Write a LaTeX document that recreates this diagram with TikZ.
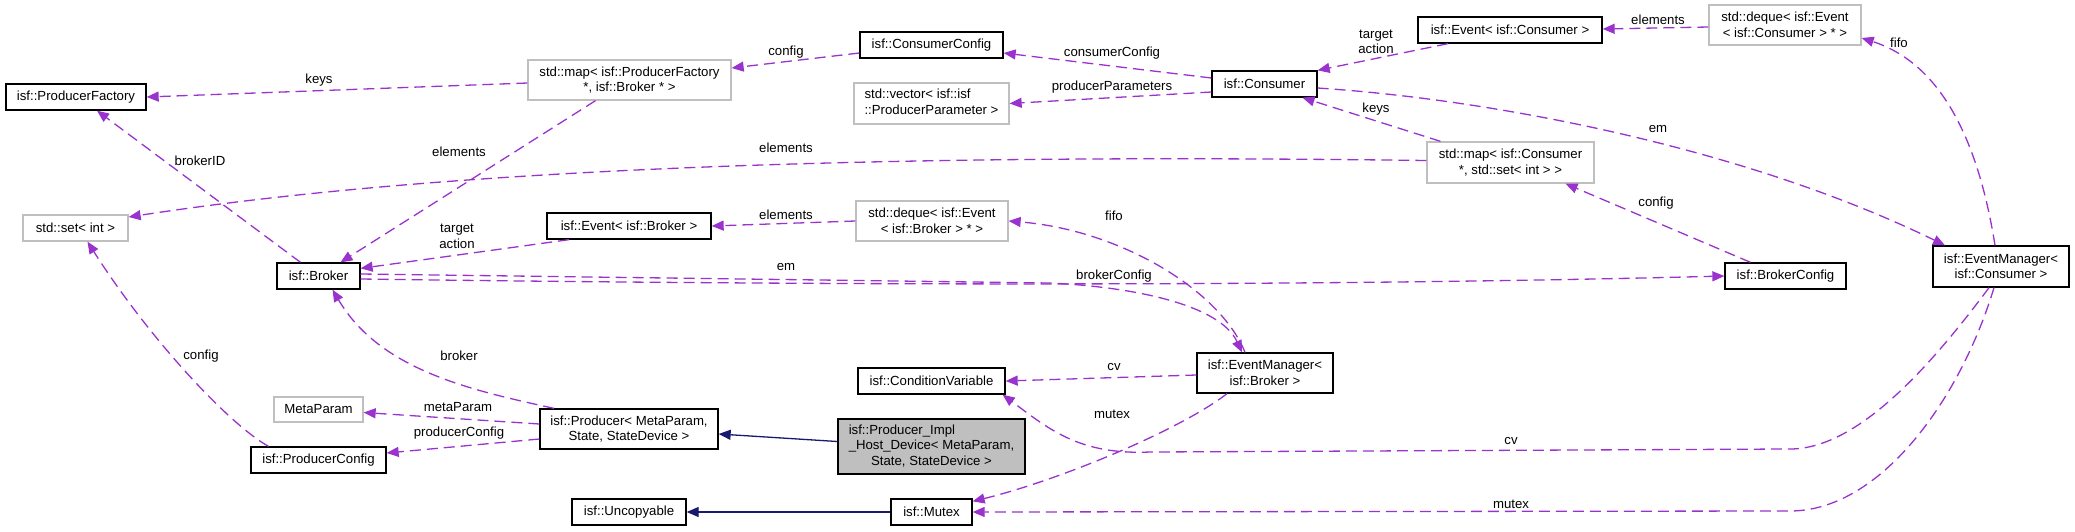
\documentclass[tikz,border=0pt]{standalone}
\usepackage{fontspec}
\setmainfont{Liberation Sans}
\usetikzlibrary{arrows.meta}
\definecolor{edgepurple}{HTML}{9A32CD}
\definecolor{midblue}{HTML}{191970}
\definecolor{greyseventyfive}{HTML}{BFBFBF}
\begin{document}
\begin{tikzpicture}[x=1pt,y=-1pt,
  every node/.style={font=\fontsize{13.2}{15.5}\selectfont},
  box/.style={draw=black, line width=1.3pt, fill=white, inner sep=0pt, align=center},
  extbox/.style={box, draw=greyseventyfive},
  lbl/.style={inner sep=0pt, align=center},
  uses/.style={draw=edgepurple, line width=1.3pt, dash pattern=on 11pt off 6pt, -{Triangle[length=12pt,width=10pt]}},
  inherit/.style={draw=midblue, line width=1.3pt, -{Triangle[length=12pt,width=10pt]}},
]
\useasboundingbox (0,0) rectangle (2075,531);
% nodes
\node[box, minimum width=140pt, minimum height=26pt] (pf) at (76,97) {isf::ProducerFactory};
\node[extbox, minimum width=203pt, minimum height=40pt] (mappf) at (629.5,80) {std::map< isf::ProducerFactory\\ *, isf::Broker * >};
\node[box, minimum width=143pt, minimum height=26pt] (cc) at (931.5,45) {isf::ConsumerConfig};
\node[extbox, minimum width=155pt, minimum height=41pt] (vector) at (931.5,103.5) {\begin{tabular}{@{}l@{}}std::vector< isf::isf\\::ProducerParameter >\end{tabular}};
\node[box, minimum width=105pt, minimum height=26pt] (consumer) at (1264.5,84) {isf::Consumer};
\node[box, minimum width=184pt, minimum height=26pt] (evc) at (1510,30) {isf::Event< isf::Consumer >};
\node[extbox, minimum width=152pt, minimum height=40pt] (dqc) at (1785,25) {std::deque< isf::Event\\< isf::Consumer > * >};
\node[extbox, minimum width=105pt, minimum height=26pt] (set) at (75.5,228) {std::set< int >};
\node[extbox, minimum width=167pt, minimum height=41pt] (mapc) at (1510.5,162.5) {std::map< isf::Consumer\\ *, std::set< int > >};
\node[box, minimum width=83pt, minimum height=26pt] (broker) at (318.5,276) {isf::Broker};
\node[box, minimum width=164pt, minimum height=26pt] (evb) at (629,226) {isf::Event< isf::Broker >};
\node[extbox, minimum width=152pt, minimum height=40pt] (dqb) at (932,221) {std::deque< isf::Event\\< isf::Broker > * >};
\node[box, minimum width=121pt, minimum height=26pt] (bc) at (1785.5,276) {isf::BrokerConfig};
\node[box, minimum width=136pt, minimum height=41pt] (emc) at (2001,266.5) {isf::EventManager<\\ isf::Consumer >};
\node[box, minimum width=136pt, minimum height=40pt] (emb) at (1265,373) {isf::EventManager<\\ isf::Broker >};
\node[box, minimum width=147pt, minimum height=26pt] (cv) at (931.5,381) {isf::ConditionVariable};
\node[extbox, minimum width=89pt, minimum height=25pt] (mp) at (318.5,409.5) {MetaParam};
\node[box, minimum width=178pt, minimum height=40pt] (prod) at (629,429) {isf::Producer< MetaParam,\\ State, StateDevice >};
\node[box, minimum width=135pt, minimum height=26pt] (pc) at (318.5,460) {isf::ProducerConfig};
\node[box, fill=greyseventyfive, minimum width=187pt, minimum height=55pt] (impl) at (931.5,446.5) {\begin{tabular}{@{}l@{}}isf::Producer\_Impl\\\_Host\_Device< MetaParam,\\\multicolumn{1}{@{}c@{}}{State, StateDevice >}\end{tabular}};
\node[box, minimum width=114pt, minimum height=26pt] (unc) at (629,512) {isf::Uncopyable};
\node[box, minimum width=81pt, minimum height=26pt] (mutex) at (931.5,512) {isf::Mutex};
% edges
\draw[uses] ([yshift=-3pt]mappf.west) -- (pf.east);
\draw[uses] ([xshift=-34pt]mappf.south) -- ([xshift=22pt]broker.north);
\draw[uses] ([yshift=-8pt]cc.west) -- ([yshift=12pt]mappf.east);
\draw[uses] ([yshift=6pt]consumer.west) -- ([yshift=-8pt]cc.east);
\draw[uses] ([yshift=-8pt]consumer.west) -- (vector.east);
\draw[uses] ([xshift=-62pt]evc.south) -- (consumer.north east);
\draw[uses] ([yshift=-2pt]dqc.west) -- ([yshift=1pt]evc.east);
\draw[uses] ([xshift=-6pt]emc.north) .. controls (1975,120) and (1930,60) .. ([yshift=-13pt]dqc.east);
\draw[uses] ([yshift=-4pt]consumer.east) .. controls (1500,100) and (1750,150) .. ([xshift=-56pt]emc.north);
\draw[uses] ([xshift=-70pt]mapc.north) -- ([xshift=38pt]consumer.south);
\draw[uses] ([yshift=2pt]mapc.west) .. controls (1000,155) and (500,160) .. ([yshift=11pt]set.east);
\draw[uses] ([xshift=-35pt]bc.north) -- ([xshift=55pt]mapc.south);
\draw[uses] ([xshift=-18pt]broker.north) -- ([xshift=21pt]pf.south);
\draw[uses] ([xshift=-60pt]evb.south) -- ([yshift=-6pt]broker.north east);
\draw[uses] (dqb.west) -- (evb.east);
\draw[uses] ([xshift=-20pt]emb.north) .. controls (1220,290) and (1120,230) .. (dqb.east);
\draw[uses] ([yshift=2pt]broker.east) -- (1050,283) .. controls (1135,287) and (1220,305) .. ([xshift=-23pt]emb.north);
\draw[uses] ([yshift=-3pt]broker.east) .. controls (800,285) and (1300,287) .. (bc.west);
\draw[uses] ([yshift=-2pt]emb.west) -- (cv.east);
\draw[uses] ([xshift=-38pt]emb.south) .. controls (1180,430) and (1060,480) .. ([yshift=-3pt]mutex.north east);
\draw[uses] ([xshift=-12pt]emc.south) .. controls (1935,360) and (1860,449) .. (1790,449) -- (1150,452) .. controls (1080,455) and (1050,430) .. ([xshift=-3pt]cv.south east);
\draw[uses] ([xshift=-7pt]emc.south) .. controls (1960,400) and (1880,511) .. (1790,511) -- (mutex.east);
\draw[uses] ([xshift=-75pt]prod.north) .. controls (470,390) and (380,370) .. ([xshift=14pt]broker.south);
\draw[uses] ([yshift=5pt]prod.west) -- ([yshift=-3pt]mp.east);
\draw[uses] ([yshift=-10pt]prod.west) -- ([yshift=7pt]pc.east);
\draw[uses] ([xshift=-50pt]pc.north) .. controls (230,425) and (150,340) .. ([xshift=12pt]set.south);
\draw[inherit] ([yshift=5pt]impl.west) -- ([yshift=-5pt]prod.east);
\draw[inherit] (mutex.west) -- (unc.east);
% labels
\node[lbl] (l1) at (319,80) {keys};
\node[lbl] (l2) at (459,152) {elements};
\node[lbl] (l3) at (786,52) {config};
\node[lbl] (l4) at (1112,53) {consumerConfig};
\node[lbl] (l5) at (1112,87) {producerParameters};
\node[lbl] (l6) at (1376,42) {target\\action};
\node[lbl] (l7) at (1658,20) {elements};
\node[lbl] (l8) at (1899,43) {fifo};
\node[lbl] (l9) at (1658,129) {em};
\node[lbl] (l10) at (1376,109) {keys};
\node[lbl] (l11) at (786,148) {elements};
\node[lbl] (l12) at (1656,203) {config};
\node[lbl] (l13) at (200,161) {brokerID};
\node[lbl] (l14) at (457,236.5) {target\\action};
\node[lbl] (l15) at (786,215) {elements};
\node[lbl] (l16) at (1114,216) {fifo};
\node[lbl] (l17) at (786,267) {em};
\node[lbl] (l18) at (1114,276) {brokerConfig};
\node[lbl] (l19) at (1114,367) {cv};
\node[lbl] (l20) at (1112,414) {mutex};
\node[lbl] (l21) at (1511,441) {cv};
\node[lbl] (l22) at (1511,504) {mutex};
\node[lbl] (l23) at (459,356) {broker};
\node[lbl] (l24) at (458,407) {metaParam};
\node[lbl] (l25) at (459,433) {producerConfig};
\node[lbl] (l26) at (201,356) {config};
\end{tikzpicture}
\end{document}
